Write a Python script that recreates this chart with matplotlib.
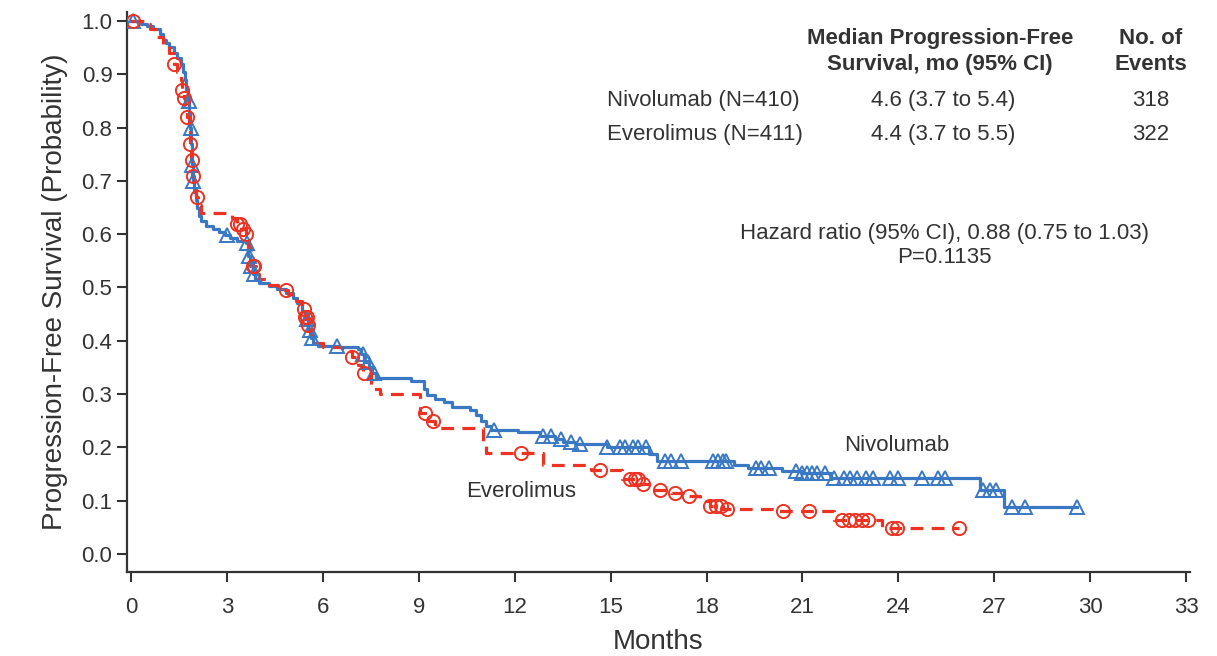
import numpy as np
import matplotlib
matplotlib.use("Agg")
import matplotlib.pyplot as plt

# Ниволумаб: моменты событий (мес.) и значения кривой Каплана-Мейера
nivo_t = [0, 0.3, 0.5, 0.7, 0.9, 1.0, 1.1, 1.2, 1.35, 1.45, 1.55, 1.62, 1.68, 1.73,
          1.78, 1.82, 1.85, 1.87, 1.9, 1.93, 1.97, 2.02, 2.07, 2.12, 2.2, 2.35, 2.55,
          2.75, 2.95, 3.1, 3.3, 3.6, 3.65, 3.72, 3.8, 3.88, 4.0, 4.3, 4.55, 4.85, 5.05,
          5.2, 5.35, 5.45, 5.55, 5.62, 5.7, 5.85, 6.5, 7.1, 7.2, 7.3, 7.45, 7.55, 7.65,
          8.75, 9.15, 9.25, 9.5, 9.8, 10.05, 10.6, 10.8, 10.95, 11.1, 11.25, 12.1,
          12.8, 13.25, 13.5, 13.9, 14.9, 16.2, 16.45, 18.85, 19.3, 20.35, 21.0, 21.9,
          26.55, 27.3, 29.6]
nivo_s = [1.0, 0.995, 0.99, 0.985, 0.975, 0.965, 0.958, 0.952, 0.94, 0.93, 0.92, 0.905,
          0.89, 0.87, 0.85, 0.83, 0.80, 0.77, 0.73, 0.70, 0.68, 0.665, 0.65, 0.635,
          0.625, 0.615, 0.61, 0.605, 0.598, 0.592, 0.588, 0.583, 0.56, 0.54, 0.525,
          0.515, 0.508, 0.502, 0.497, 0.49, 0.48, 0.47, 0.455, 0.44, 0.42, 0.405, 0.395,
          0.39, 0.388, 0.385, 0.375, 0.36, 0.35, 0.34, 0.33, 0.325, 0.31, 0.298, 0.29,
          0.285, 0.275, 0.27, 0.26, 0.25, 0.24, 0.232, 0.228, 0.222, 0.216, 0.21, 0.206,
          0.2, 0.188, 0.175, 0.166, 0.162, 0.156, 0.152, 0.142, 0.12, 0.088, 0.088]
nivo_cens = [0.05, 1.8, 1.86, 1.9, 1.95, 3.0, 3.62, 3.68, 3.75, 3.85, 5.5, 5.6, 5.65,
             6.45, 7.25, 7.4, 7.6, 11.35, 12.9, 13.15, 13.45, 13.75, 14.05, 14.9, 15.3,
             15.45, 15.7, 15.85, 16.1, 16.7, 16.9, 17.2, 18.2, 18.35, 18.5, 18.6, 19.55,
             19.7, 19.95, 20.8, 21.0, 21.15, 21.3, 21.45, 21.7, 22.0, 22.3, 22.5, 22.7,
             23.0, 23.2, 23.75, 24.0, 24.75, 25.25, 25.45, 26.65, 26.85, 27.05, 27.55,
             27.95, 29.6]

# Эверолимус
ever_t = [0, 0.4, 0.6, 0.8, 1.0, 1.2, 1.35, 1.45, 1.55, 1.6, 1.65, 1.7, 1.75, 1.8,
          1.85, 1.88, 1.92, 1.97, 2.03, 2.1, 2.2, 3.15, 3.3, 3.45, 3.6, 3.7, 3.75, 3.8,
          3.9, 4.0, 4.3, 4.6, 4.9, 5.15, 5.35, 5.45, 5.52, 5.6, 5.7, 6.0, 6.6, 6.9, 7.1,
          7.25, 7.5, 7.8, 9.05, 9.3, 9.5, 11.0, 11.1, 12.9, 14.4, 15.35, 15.9, 16.3,
          16.9, 17.3, 17.8, 18.1, 18.5, 20.2, 22.0, 23.5, 25.9]
ever_s = [1.0, 0.995, 0.985, 0.97, 0.955, 0.94, 0.92, 0.905, 0.89, 0.87, 0.855, 0.84,
          0.82, 0.80, 0.77, 0.74, 0.71, 0.69, 0.67, 0.655, 0.64, 0.63, 0.62, 0.61, 0.60,
          0.575, 0.555, 0.54, 0.525, 0.515, 0.505, 0.495, 0.488, 0.475, 0.46, 0.445,
          0.43, 0.41, 0.395, 0.388, 0.38, 0.37, 0.355, 0.34, 0.31, 0.30, 0.265, 0.25,
          0.236, 0.21, 0.19, 0.167, 0.158, 0.14, 0.132, 0.12, 0.115, 0.108, 0.1, 0.09,
          0.085, 0.081, 0.063, 0.049, 0.049]
ever_cens = [0.05, 1.35, 1.6, 1.67, 1.75, 1.85, 1.9, 1.95, 2.05, 3.3, 3.4, 3.5, 3.6,
             3.8, 3.85, 4.85, 5.4, 5.45, 5.5, 5.55, 6.9, 7.3, 9.2, 9.45, 12.2, 14.66,
             15.6, 15.75, 15.85, 16.0, 16.55, 17.0, 17.45, 18.1, 18.3, 18.45, 18.65,
             20.4, 21.2, 22.25, 22.45, 22.65, 22.85, 23.05, 23.8, 23.95, 25.9]

x_ticks = list(range(0, 34, 3))
y_ticks = [0.0, 0.1, 0.2, 0.3, 0.4, 0.5, 0.6, 0.7, 0.8, 0.9, 1.0]

BLUE = "#3a78c4"
RED = "#ec3323"
DARK = "#333333"


def step_value(times, surv, at):
    """Значение ступенчатой кривой в заданные моменты."""
    idx = np.searchsorted(np.asarray(times), np.asarray(at), side="right") - 1
    return np.asarray(surv)[idx]


def draw_curve(ax, times, surv, cens, color, marker, dashed):
    """Рисует кривую Каплана-Мейера с отметками цензурирования."""
    line, = ax.step(times, surv, where="post", color=color, lw=2.3, zorder=3)
    if dashed:
        line.set_dashes((4, 2.6))
    ax.plot(cens, step_value(times, surv, cens), linestyle="none", marker=marker,
            markersize=9.5, markerfacecolor="none", markeredgecolor=color,
            markeredgewidth=1.4, zorder=4)


def main():
    plt.rcParams["font.family"] = ["Liberation Sans", "DejaVu Sans"]
    fig = plt.figure(figsize=(12.17, 6.56), dpi=100)
    ax = fig.add_axes([0.1044, 0.128, 0.8734, 0.8537])

    draw_curve(ax, nivo_t, nivo_s, nivo_cens, BLUE, "^", dashed=False)
    draw_curve(ax, ever_t, ever_s, ever_cens, RED, "o", dashed=True)

    ax.set_xlim(-0.125, 33.12)
    ax.set_ylim(-0.034, 1.017)
    ax.set_xticks(x_ticks)
    ax.set_yticks(y_ticks)
    ax.set_yticklabels([f"{v:.1f}" for v in y_ticks])
    for side in ("top", "right"):
        ax.spines[side].set_visible(False)
    for side in ("left", "bottom"):
        ax.spines[side].set_color(DARK)
        ax.spines[side].set_linewidth(1.6)
    ax.tick_params(colors=DARK, labelsize=16, length=7, width=1.5)
    ax.tick_params(axis="x", pad=11)
    ax.set_xlabel("Months", fontsize=20, color=DARK, labelpad=8)
    ax.set_ylabel("Progression-Free Survival (Probability)", fontsize=20,
                  color=DARK, labelpad=10)

    # Таблица с медианами и числом событий
    txt = dict(fontsize=16, color=DARK, va="center")
    ax.text(25.3, 0.967, "Median Progression-Free", ha="center", fontweight="bold", **txt)
    ax.text(25.3, 0.918, "Survival, mo (95% CI)", ha="center", fontweight="bold", **txt)
    ax.text(31.9, 0.967, "No. of", ha="center", fontweight="bold", **txt)
    ax.text(31.9, 0.918, "Events", ha="center", fontweight="bold", **txt)
    ax.text(14.9, 0.851, "Nivolumab (N=410)", ha="left", **txt)
    ax.text(14.9, 0.787, "Everolimus (N=411)", ha="left", **txt)
    ax.text(25.4, 0.851, "4.6 (3.7 to 5.4)", ha="center", **txt)
    ax.text(25.4, 0.787, "4.4 (3.7 to 5.5)", ha="center", **txt)
    ax.text(31.9, 0.851, "318", ha="center", **txt)
    ax.text(31.9, 0.787, "322", ha="center", **txt)
    ax.text(25.45, 0.601, "Hazard ratio (95% CI), 0.88 (0.75 to 1.03)", ha="center", **txt)
    ax.text(25.45, 0.556, "P=0.1135", ha="center", **txt)

    # Подписи кривых
    ax.text(23.95, 0.203, "Nivolumab", ha="center", **txt)
    ax.text(12.2, 0.117, "Everolimus", ha="center", **txt)

    fig.savefig("out.png", dpi=100, facecolor="white")


if __name__ == "__main__":
    main()
